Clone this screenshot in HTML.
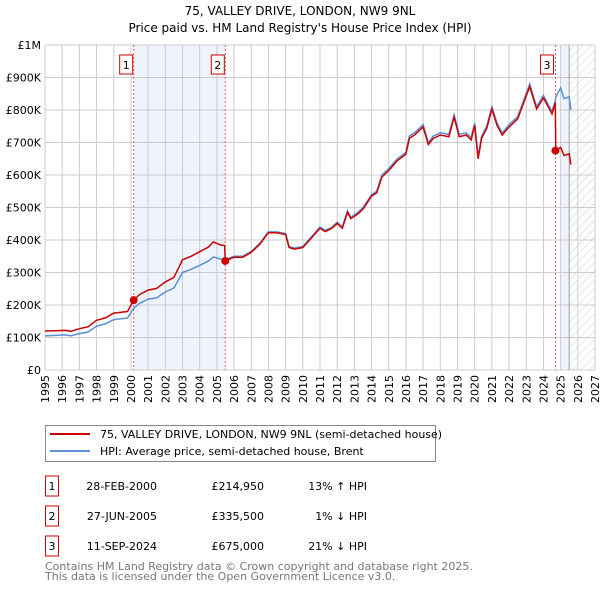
<!DOCTYPE html>
<html><head><meta charset="utf-8"><style>
body{margin:0;background:#fff;font-family:"Liberation Sans","DejaVu Sans",sans-serif;}
svg text{font-family:"DejaVu Sans","Liberation Sans",sans-serif;}
</style></head><body>
<svg id="c" width="600" height="590" xmlns="http://www.w3.org/2000/svg">
<defs><pattern id="hatch" width="6" height="6" patternUnits="userSpaceOnUse" patternTransform="rotate(45)"><line x1="0" y1="0" x2="0" y2="6" stroke="#ccc" stroke-width="1"/></pattern></defs>
<text x="300" y="15" text-anchor="middle" font-size="12">75, VALLEY DRIVE, LONDON, NW9 9NL</text>
<text x="300" y="32" text-anchor="middle" font-size="12">Price paid vs. HM Land Registry's House Price Index (HPI)</text>
<g id="plot"></g>
<g>
<rect x="45.5" y="425.5" width="390" height="36" fill="#fff" stroke="#888"/>
<line x1="50" y1="434" x2="90" y2="434" stroke="#cc0000" stroke-width="2"/>
<text x="100" y="438" font-size="11">75, VALLEY DRIVE, LONDON, NW9 9NL (semi-detached house)</text>
<line x1="50" y1="451" x2="90" y2="451" stroke="#5b8fd6" stroke-width="2"/>
<text x="100" y="455" font-size="11">HPI: Average price, semi-detached house, Brent</text>
</g>
<g id="table" font-size="11"></g>
<text x="45" y="570" font-size="11" fill="#777">Contains HM Land Registry data © Crown copyright and database right 2025.</text>
<text x="45" y="580" font-size="11" fill="#777">This data is licensed under the Open Government Licence v3.0.</text>
</svg>
<script>
const years=[1995.0,1996.2,1996.5,1997,1997.5,1998,1998.5,1999,1999.5,1999.8,2000.16,2000.5,2001,2001.5,2002,2002.5,2003,2003.5,2004,2004.5,2004.8,2005.2,2005.45,2005.49,2006,2006.5,2007,2007.5,2008,2008.5,2009,2009.2,2009.5,2010,2010.5,2011,2011.3,2011.7,2012,2012.3,2012.6,2012.8,2013.2,2013.5,2014,2014.3,2014.6,2015,2015.5,2016,2016.2,2016.5,2017,2017.3,2017.6,2018,2018.5,2018.8,2019.1,2019.5,2019.8,2020.0,2020.2,2020.4,2020.7,2021.0,2021.3,2021.6,2022,2022.5,2023.2,2023.6,2024,2024.3,2024.5,2024.69,2024.72,2025.0,2025.2,2025.5,2025.6];
const hpi=[105,108,105,112,117,135,142,155,158,160,190,205,218,222,240,252,300,310,322,335,348,342,340,340,350,350,365,390,425,425,420,380,375,380,410,440,430,440,455,440,490,470,485,500,540,550,600,620,650,670,720,730,755,700,720,730,725,785,725,730,715,760,655,720,750,810,760,730,755,780,880,810,845,815,795,830,840,868,835,840,800];
const red=[120,122,119,127,133,153,160,175,178,180,215,232,246,251,271,285,339,350,364,378,394,385,383,335.5,347,347,362,387,422,422,417,377,372,377,406,436,426,436,451,436,485,466,480,495,535,545,594,614,644,664,713,723,748,694,713,723,718,778,718,723,708,753,650,713,743,803,753,723,748,773,872,803,837,808,788,822,675,685,660,665,632];
const sales=[[2000.16,214950],[2005.49,335500],[2024.7,675000]];
const yTicks=[0,100,200,300,400,500,600,700,800,900,1000];
const yLabels=["£0","£100K","£200K","£300K","£400K","£500K","£600K","£700K","£800K","£900K","£1M"];
const xYears=[];for(let y=1995;y<=2027;y++)xYears.push(y);
const rows=[["1","28-FEB-2000","£214,950","13% ↑ HPI"],["2","27-JUN-2005","£335,500","1% ↓ HPI"],["3","11-SEP-2024","£675,000","21% ↓ HPI"]];
const X0=45,X1=595,Y0=370,Y1=45;
const sx=y=>X0+(y-1995)/(2027-1995)*(X1-X0);
const sy=v=>Y0-v/1000*(Y0-Y1);
const NS="http://www.w3.org/2000/svg";
const plot=document.getElementById('plot');
function mk(t,a,p){const e=document.createElementNS(NS,t);for(const k in a)e.setAttribute(k,a[k]);(p||plot).appendChild(e);return e;}
let e;
e=mk('rect',{x:sx(2000.16),y:Y1,width:sx(2005.49)-sx(2000.16),height:Y0-Y1,fill:'#eef3fc'});

e=mk('rect',{x:sx(2025.0),y:Y1,width:sx(2025.5)-sx(2025.0),height:Y0-Y1,fill:'#eef3fc'});

e=mk('rect',{x:sx(2025.5),y:Y1,width:X1-sx(2025.5),height:Y0-Y1,fill:'url(#hatch)'});

xYears.forEach(y=>{e=mk('line',{x1:sx(y),x2:sx(y),y1:Y1,y2:Y0,stroke:'#ccc'});

const t=mk('text',{x:0,y:0,'font-size':11,'text-anchor':'end',transform:`translate(${sx(y)+4},${Y0+5}) rotate(-90)`});t.textContent=y;
});
yTicks.forEach((v,i)=>{e=mk('line',{x1:X0,x2:X1,y1:sy(v),y2:sy(v),stroke:'#ccc'});

const t=mk('text',{x:X0-4,y:sy(v)+4,'font-size':11,'text-anchor':'end'});t.textContent=yLabels[i];
});
e=mk('line',{x1:sx(2025.5),x2:sx(2025.5),y1:Y1,y2:Y0,stroke:'#999'});

sales.forEach((s,i)=>{e=mk('line',{x1:sx(s[0]),x2:sx(s[0]),y1:Y1,y2:Y0,stroke:'#e06060','stroke-dasharray':'2,2'});

const bx=sx(s[0])-(i==2?9:8);
e=mk('rect',{x:bx-6,y:55,width:13,height:19,fill:'#fff',stroke:'#cc0000'});

const t=mk('text',{x:bx+0.5,y:69,'font-size':11,'text-anchor':'middle'});t.textContent=i+1;
});
const path=(ys)=>years.map((y,i)=>(i?'L':'M')+sx(y).toFixed(1)+','+sy(ys[i]).toFixed(1)).join('');
e=mk('path',{d:path(hpi),fill:'none',stroke:'#5b8fd6','stroke-width':1.5});

e=mk('path',{d:path(red),fill:'none',stroke:'#cc0000','stroke-width':1.5});

sales.forEach(s=>{e=mk('circle',{cx:sx(s[0]),cy:sy(s[1]/1000),r:4,fill:'#cc0000'});
});
const tb=document.getElementById('table');
rows.forEach((r,i)=>{const y=489+i*30;
e=mk('rect',{x:45.5,y:y-13,width:13,height:20,fill:'#fff',stroke:'#cc0000'},tb);

const cols=[[52,'middle',r[0]],[157,'end',r[1]],[264,'end',r[2]],[367,'end',r[3]]];
cols.forEach(c=>{const t=mk('text',{x:c[0],y:y+1,'text-anchor':c[1]},tb);t.textContent=c[2];
});});
</script>
</body></html>
